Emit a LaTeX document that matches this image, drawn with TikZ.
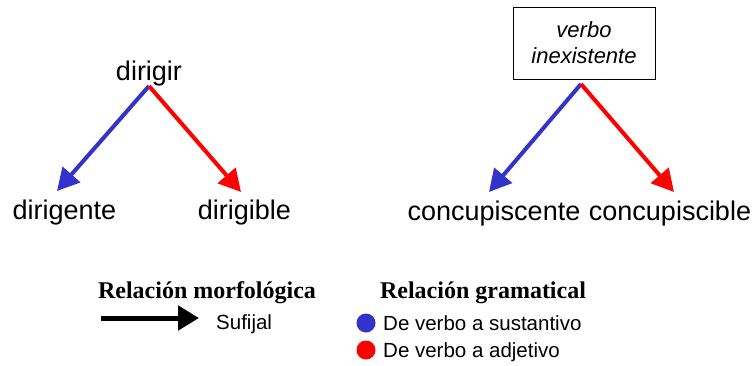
\documentclass[tikz,border=0pt]{standalone}
\usepackage{fontspec}
\setmainfont{Liberation Sans}
\newfontfamily\titlefont{Liberation Serif}
\usetikzlibrary{arrows.meta}
\definecolor{myblue}{HTML}{3333CC}
\definecolor{myred}{HTML}{FF0000}
\begin{document}
\begin{tikzpicture}[x=1pt,y=-1pt,
  word/.style={inner sep=0pt,anchor=base,font=\fontsize{27}{32}\selectfont},
  rel/.style={line width=4pt,-{Triangle[length=22pt,width=23pt]}},
  legtitle/.style={inner sep=0pt,anchor=base,font=\titlefont\bfseries\fontsize{24}{28}\selectfont},
  legtext/.style={inner sep=0pt,anchor=base west,font=\fontsize{20.5}{24}\selectfont},
  dot/.style={circle,inner sep=0pt,minimum size=19pt}]
\useasboundingbox (0,0) rectangle (752,365);
% left tree
\node[word] (dirigir) at (149,80) {dirigir};
\coordinate (r1) at (149,86);
\coordinate (t1) at (57,191);
\coordinate (t2) at (241,192);
\node[word] (dirigente) at (64.5,219) {dirigente};
\node[word] (dirigible) at (244.5,219) {dirigible};
\draw[rel,myblue] (r1) -- (t1);
\draw[rel,myred] (r1) -- (t2);
% right tree
\node[draw,line width=1pt,minimum width=142pt,minimum height=72pt,inner sep=0pt,
  align=center,font=\itshape\fontsize{22}{26}\selectfont] (box) at (584,43) {verbo\\inexistente};
\coordinate (r2) at (581,84);
\coordinate (t3) at (489,192);
\coordinate (t4) at (674,192);
\node[word] (concs) at (494,220) {concupiscente};
\node[word] (concb) at (670,220) {concupiscible};
\draw[rel,myblue] (r2) -- (t3);
\draw[rel,myred] (r2) -- (t4);
% legend
\node[legtitle] (lt1) at (207,298) {Relación morfológica};
\node[legtitle] (lt2) at (483,298) {Relación gramatical};
\coordinate (a1) at (101,318);
\coordinate (a2) at (199,318);
\draw[line width=5pt,black,-{Triangle[length=21pt,width=24pt]}] (a1) -- (a2);
\node[legtext] (suf) at (216,329) {Sufijal};
\node[dot,fill=myblue] (d1) at (366,323) {};
\node[dot,fill=myred] (d2) at (366,350) {};
\node[legtext] (l1) at (383,330) {De verbo a sustantivo};
\node[legtext] (l2) at (383,357) {De verbo a adjetivo};
\end{tikzpicture}
\end{document}
